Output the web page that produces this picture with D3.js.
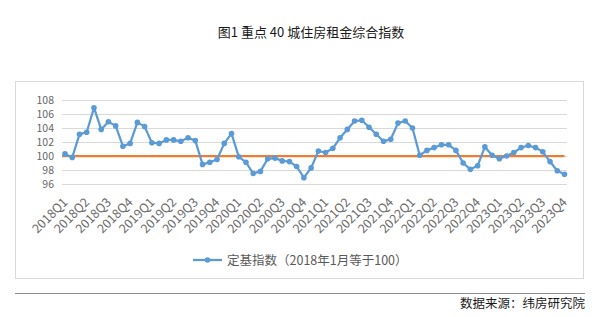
<!DOCTYPE html>
<html>
<head>
<meta charset="utf-8">
<script src="https://cdn.jsdelivr.net/npm/d3@7/dist/d3.min.js"></script>
<style>
  html, body { margin: 0; padding: 0; background: #fff; }
  svg { display: block; }
  text { font-family: "Noto Sans CJK SC", "Noto Sans", sans-serif; }
</style>
</head>
<body>
<svg id="chart" width="600" height="317"></svg>
<script>
// Monthly fixed-base rent index, 40 key cities
const values = [
  100.3, 99.8, 103.1, 103.4, 106.9, 103.8, 104.9, 104.3, 101.4, 101.8,
  104.8, 104.2, 101.9, 101.8, 102.3, 102.3, 102.1, 102.6, 102.2, 98.8,
  99.1, 99.5, 101.8, 103.2, 99.9, 99.1, 97.5, 97.8, 99.6, 99.7,
  99.3, 99.2, 98.5, 96.9, 98.3, 100.7, 100.5, 101.1, 102.6, 103.8,
  105.0, 105.1, 104.1, 103.1, 102.1, 102.4, 104.7, 105.0, 104.0, 100.1,
  100.8, 101.2, 101.6, 101.6, 100.8, 99.0, 98.1, 98.6, 101.3, 100.1,
  99.6, 100.0, 100.5, 101.2, 101.5, 101.2, 100.6, 99.2, 97.9, 97.4
];
// Quarter labels shown on every third month
const quarterLabels = [
  "2018Q1","2018Q2","2018Q3","2018Q4",
  "2019Q1","2019Q2","2019Q3","2019Q4",
  "2020Q1","2020Q2","2020Q3","2020Q4",
  "2021Q1","2021Q2","2021Q3","2021Q4",
  "2022Q1","2022Q2","2022Q3","2022Q4",
  "2023Q1","2023Q2","2023Q3","2023Q4"
];
const yTicks = [96, 98, 100, 102, 104, 106, 108];
const baseline = 100;
const title = "图1 重点 40 城住房租金综合指数";
const legendLabel = "定基指数（2018年1月等于100）";
const sourceNote = "数据来源：纬房研究院";

const numFont = "\"Noto Sans\", \"DejaVu Sans\", sans-serif";
const yFont = "\"Liberation Sans\", Arial, sans-serif";

const svg = d3.select("#chart");
const idx = d3.range(values.length);

const x = d3.scalePoint().domain(idx).range([65, 564.5]);
const y = d3.scaleLinear().domain([96, 108]).range([184, 100]);

// Title
svg.append("text")
  .attr("x", 311).attr("y", 37)
  .attr("text-anchor", "middle")
  .attr("font-size", 13)
  .attr("fill", "#1a1a1a")
  .text(title);

// Chart frame
svg.append("rect")
  .attr("x", 15.5).attr("y", 81.5)
  .attr("width", 568).attr("height", 197)
  .attr("fill", "none")
  .attr("stroke", "#d9d9d9");

// Gridlines
svg.append("g")
  .selectAll("line")
  .data(yTicks)
  .join("line")
  .attr("x1", 62).attr("x2", 567)
  .attr("y1", d => Math.round(y(d)) + 0.5)
  .attr("y2", d => Math.round(y(d)) + 0.5)
  .attr("stroke", "#d9d9d9")
  .attr("stroke-width", 1);

// Y axis labels
const yAxis = d3.axisLeft(y).tickValues(yTicks).tickSize(0).tickPadding(0);
const yg = svg.append("g").attr("transform", "translate(54,0)").call(yAxis);
yg.select(".domain").remove();
yg.selectAll("text")
  .attr("font-size", 10.5)
  .attr("fill", "#666666")
  .attr("font-family", yFont);

// X axis labels, every third month
const xAxis = d3.axisBottom(x)
  .tickValues(idx.filter(i => i % 3 === 0))
  .tickFormat(i => quarterLabels[i / 3])
  .tickSize(0).tickPadding(0);
const xg = svg.append("g").attr("transform", "translate(0,190)").call(xAxis);
xg.select(".domain").remove();
xg.selectAll("text")
  .attr("font-size", 12.5)
  .attr("fill", "#6b6b6b")
  .attr("font-family", numFont)
  .attr("text-anchor", "end")
  .attr("dy", null)
  .attr("y", 0)
  .attr("transform", "translate(3,13) rotate(-45)");

// Baseline at 100
svg.append("line")
  .attr("x1", 62).attr("x2", x(idx[idx.length - 1]))
  .attr("y1", y(baseline)).attr("y2", y(baseline))
  .attr("stroke", "#ed7d31")
  .attr("stroke-width", 2.25);

// Index line with markers
const line = d3.line().x((d, i) => x(i)).y(d => y(d));
svg.append("path")
  .datum(values)
  .attr("d", line)
  .attr("fill", "none")
  .attr("stroke", "#5b9bd5")
  .attr("stroke-width", 2.25)
  .attr("stroke-linejoin", "round");

svg.append("g")
  .selectAll("circle")
  .data(values)
  .join("circle")
  .attr("cx", (d, i) => x(i))
  .attr("cy", d => y(d))
  .attr("r", 2.8)
  .attr("fill", "#5b9bd5");

// Legend
const lg = svg.append("g").attr("transform", "translate(0,260)");
lg.append("line")
  .attr("x1", 193).attr("x2", 222).attr("y1", 0).attr("y2", 0)
  .attr("stroke", "#5b9bd5").attr("stroke-width", 2.25);
lg.append("circle")
  .attr("cx", 207.5).attr("cy", 0).attr("r", 2.8)
  .attr("fill", "#5b9bd5");
lg.append("text")
  .attr("x", 227).attr("y", 4.5)
  .attr("font-size", 12.5)
  .attr("fill", "#595959")
  .text(legendLabel);

// Footer rule and source note
svg.append("line")
  .attr("x1", 15).attr("x2", 585)
  .attr("y1", 293.5).attr("y2", 293.5)
  .attr("stroke", "#8c8c8c").attr("stroke-width", 1);
svg.append("text")
  .attr("x", 585).attr("y", 308)
  .attr("text-anchor", "end")
  .attr("font-size", 12.5)
  .attr("fill", "#1a1a1a")
  .text(sourceNote);
</script>
</body>
</html>
